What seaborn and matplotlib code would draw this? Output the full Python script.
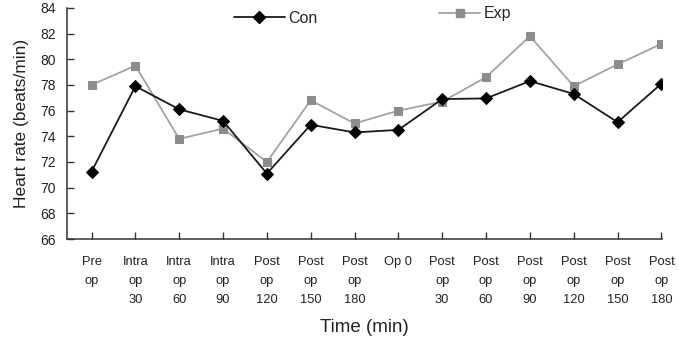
import seaborn as sns
import matplotlib.pyplot as plt
import matplotlib.lines as mlines
import numpy as np
import pandas as pd

## Time points (x-axis categories)
time_labels = ["Pre\nop", "Intra\nop\n30", "Intra\nop\n60", "Intra\nop\n90",
               "Post\nop\n120", "Post\nop\n150", "Post\nop\n180", "Op 0",
               "Post\nop\n30", "Post\nop\n60", "Post\nop\n90", "Post\nop\n120",
               "Post\nop\n150", "Post\nop\n180"]

## Heart rate values
con_values = [71.25, 77.9, 76.1, 75.2, 71.1, 74.9, 74.3, 74.5,
              76.9, 76.95, 78.3, 77.3, 75.1, 78.1]
exp_values = [78.0, 79.5, 73.8, 74.6, 72.0, 76.8, 75.0, 76.0,
              76.7, 78.6, 81.8, 77.9, 79.6, 81.2]

df = pd.DataFrame({
    "pos": np.arange(len(time_labels)),
    "Con": con_values,
    "Exp": exp_values,
})

sns.set_style("white")
plt.rcParams['font.family'] = ['Liberation Sans', 'DejaVu Sans']

fig = plt.figure(figsize=(6.79, 3.42), dpi=100)
ax = fig.add_axes([0.0987, 0.301, 0.876, 0.676])

exp_line = '#a3a3a3'
exp_mark = '#8c8c8c'

sns.lineplot(x="pos", y="Exp", data=df, ax=ax, color=exp_line, lw=1.3,
             marker='s', markersize=6, markerfacecolor=exp_mark,
             markeredgecolor=exp_mark)
sns.lineplot(x="pos", y="Con", data=df, ax=ax, color='#1a1a1a', lw=1.3,
             marker='D', markersize=6.5, markerfacecolor='black',
             markeredgecolor='black')

# Axes styling
ax.set_ylim(66, 84)
ax.set_yticks(np.arange(66, 85, 2))
ax.set_xlim(-0.56, len(time_labels) - 1 + 0.01)
ax.set_xticks(df["pos"])
ax.set_xticklabels(time_labels, fontsize=9.3, linespacing=1.8, va='top')
ax.tick_params(axis='y', left=True, direction='in', length=5, width=1,
               labelsize=10, pad=8, colors='#333333')
ax.tick_params(axis='x', bottom=True, direction='in', length=5, width=1,
               pad=12, colors='#333333')
ax.tick_params(labelcolor='#222222')

for side in ['top', 'right']:
    ax.spines[side].set_visible(False)
for side in ['left', 'bottom']:
    ax.spines[side].set_color('#333333')
    ax.spines[side].set_linewidth(1.1)

ax.set_ylabel('Heart rate (beats/min)', fontsize=12.5, color='#222222', labelpad=8)
ax.set_xlabel('Time (min)', fontsize=13.5, color='#222222', labelpad=9)

# Legends (two separate entries, as in the original)
con_handle = mlines.Line2D([], [], color='#1a1a1a', lw=1.3, marker='D',
                           markersize=6.5, markerfacecolor='black', markeredgecolor='black')
exp_handle = mlines.Line2D([], [], color=exp_line, lw=1.3, marker='s',
                           markersize=6, markerfacecolor=exp_mark, markeredgecolor=exp_mark)
leg1 = ax.legend([con_handle], ['Con'], loc='center left', bbox_to_anchor=(0.28, 0.955),
                 frameon=False, fontsize=11.5, handlelength=3.2, handletextpad=0.2,
                 borderpad=0, borderaxespad=0)
ax.add_artist(leg1)
ax.legend([exp_handle], ['Exp'], loc='center left', bbox_to_anchor=(0.625, 0.975),
          frameon=False, fontsize=11.5, handlelength=2.6, handletextpad=0.2,
          borderpad=0, borderaxespad=0)

plt.savefig('out.png', dpi=100)
